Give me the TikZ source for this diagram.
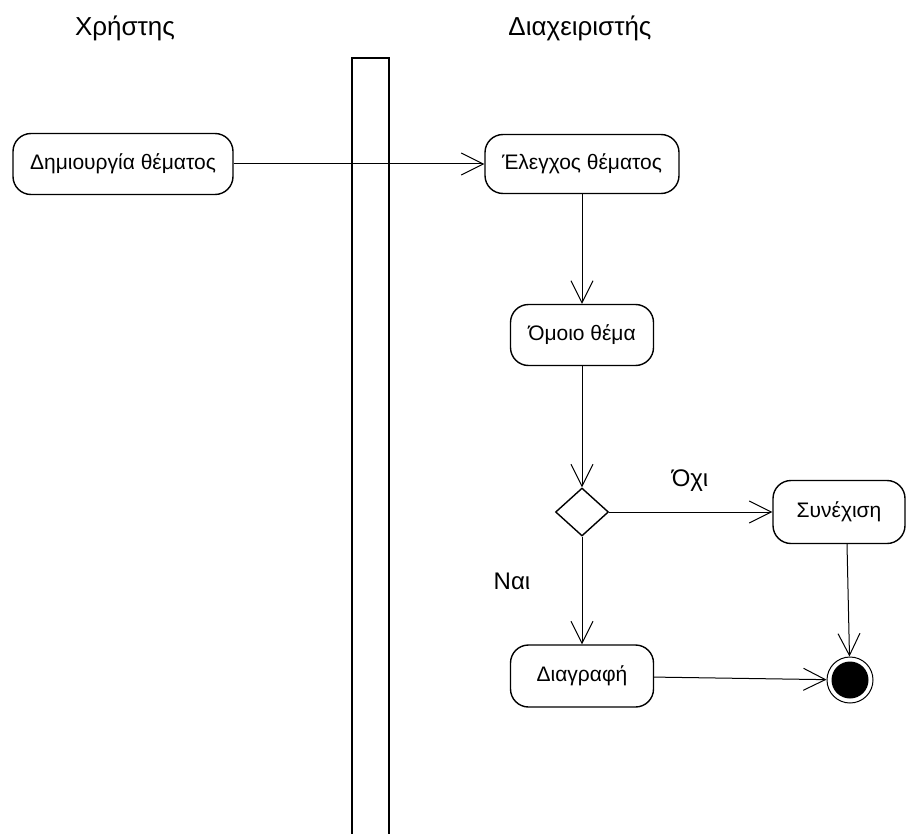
\documentclass[tikz,border=0pt]{standalone}
\usepackage{fontspec}
\setmainfont{Liberation Sans}
\usetikzlibrary{arrows.meta,shapes.geometric}
\begin{document}
\begin{tikzpicture}[x=1pt,y=-1pt,
  action/.style={draw,line width=1.4pt,rounded corners=18pt,align=center,
    inner sep=0pt,font=\fontsize{21}{25}\selectfont},
  flow/.style={draw,line width=1pt,
    -{Straight Barb[length=22pt,width=22pt,line width=1pt]}},
  lanetitle/.style={font=\fontsize{26}{30}\selectfont},
  guard/.style={font=\fontsize{24}{28}\selectfont}]
\useasboundingbox (0,0) rectangle (909,834);

% swimlane divider
\draw[line width=2pt] (352,834) -- (352,58) -- (389,58) -- (389,834);

% lane titles
\node[lanetitle] (userlane) at (125,28) {Χρήστης};
\node[lanetitle] (adminlane) at (580,28) {Διαχειριστής};

% activities
\node[action,minimum width=220pt,minimum height=61pt] (create) at (123,164) {Δημιουργία θέματος};
\node[action,minimum width=194pt,minimum height=59pt] (check) at (582,164) {Έλεγχος θέματος};
\node[action,minimum width=143pt,minimum height=61pt] (similar) at (582,335) {Όμοιο θέμα};
\node[draw,line width=1.4pt,diamond,inner sep=0pt,minimum width=53pt,minimum height=48pt] (decide) at (582,512) {};
\node[action,minimum width=132pt,minimum height=63pt] (cont) at (839,512) {Συνέχιση};
\node[action,minimum width=143pt,minimum height=62pt] (delete) at (582,676) {Διαγραφή};

% final state
\node[draw,circle,line width=1pt,minimum size=46pt,inner sep=0pt] (final) at (850,680) {};
\fill (final.center) circle (18.5);

% guard labels
\node[guard] (no) at (690,481) {Όχι};
\node[guard] (yes) at (512,581) {Ναι};

% transitions
\draw[flow] (create) -- (check);
\draw[flow] (check) -- (similar);
\draw[flow] (similar) -- (decide);
\draw[flow] (decide) -- (cont);
\draw[flow] (decide) -- (delete);
\draw[flow] (delete) -- (final);
\draw[flow] ([xshift=8pt]cont.south) -- (final);
\end{tikzpicture}
\end{document}
